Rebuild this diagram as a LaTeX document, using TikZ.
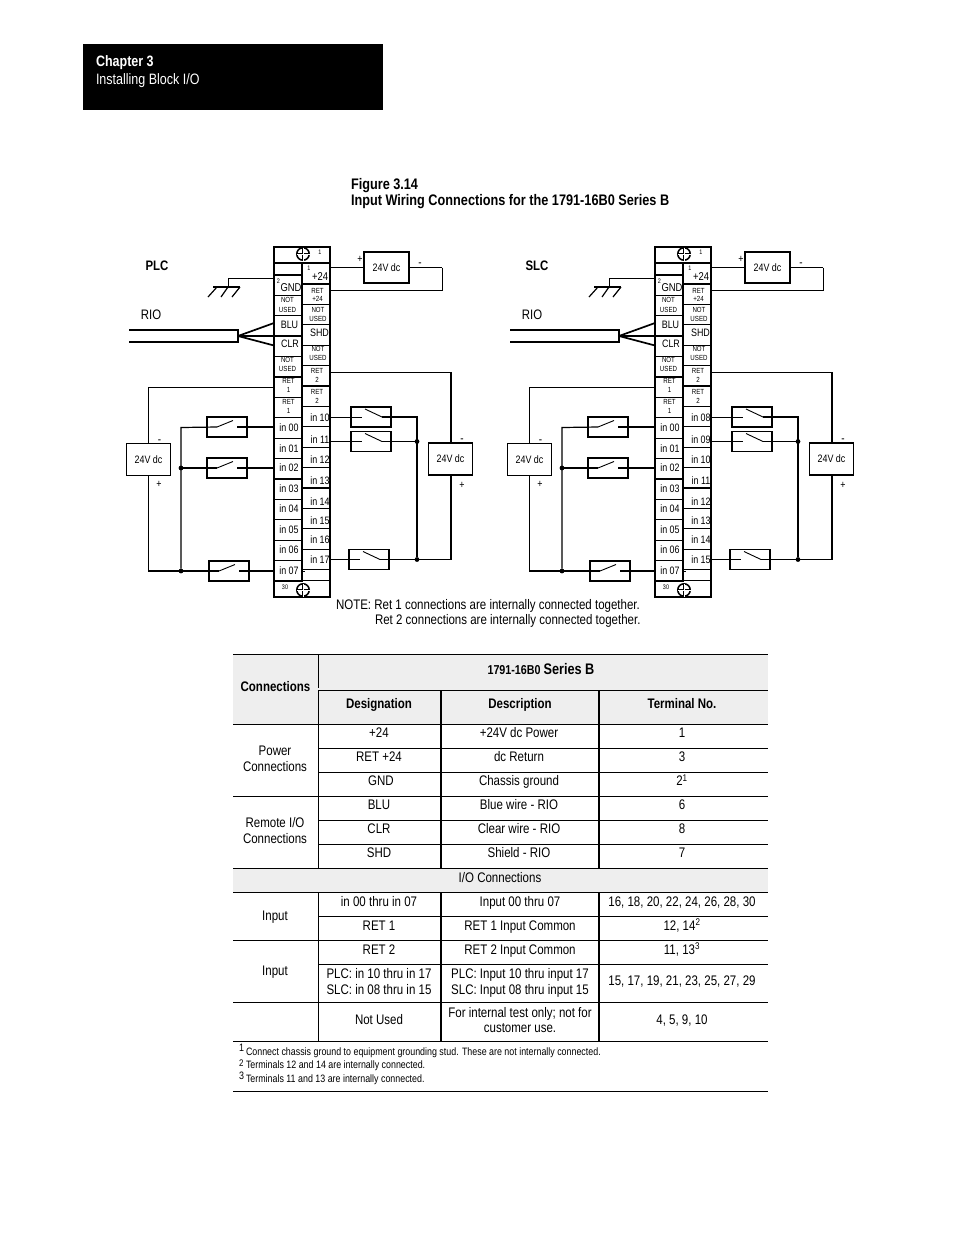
\documentclass[tikz,border=0pt]{standalone}
\usepackage{fontspec}
\setmainfont[Scale=1.2,FakeStretch=0.83]{Liberation Sans}
\newcounter{tcnt}
\tikzset{
 wire/.style={line width=1.2bp,black},
 thinwire/.style={line width=.9bp,black},
 cell/.style={draw,line width=1.2bp,minimum width=28bp,minimum height=20.4bp,inner sep=0pt,outer sep=0pt,anchor=north west},
 lab/.style={inner sep=0pt,outer sep=0pt,align=center},
 swbox/.style={draw,line width=1.2bp,minimum width=40bp,minimum height=20bp,inner sep=0pt,outer sep=0pt},
 psbox/.style={draw,line width=1.2bp,minimum width=44bp,minimum height=32bp,inner sep=0pt,outer sep=0pt,font=\fontsize{9}{9}\selectfont},
 jdot/.style={circle,fill=black,inner sep=0pt,outer sep=0pt,minimum size=4.8bp},
 screwring/.style={circle,draw,line width=1.5bp,minimum size=12.5bp,inner sep=0pt,outer sep=0pt},
 crossA/.style={line width=2.6bp,black},
 crossB/.style={line width=.9bp,white},
 tl/.style={line width=.9bp,black},
 tk/.style={line width=1.4bp,black},
 tv/.style={line width=1.5bp,black},
}
\newcommand\tc[4]{\stepcounter{tcnt}\node[lab,font=\fontsize{#1}{#1}\selectfont,anchor=base] (t\arabic{tcnt}) at (#2,#3+.43*#1) {#4};}
\newcommand\tb[4]{\stepcounter{tcnt}\node[lab,font=\fontsize{#1}{#1}\selectfont\bfseries,anchor=base] (t\arabic{tcnt}) at (#2,#3+.43*#1) {#4};}
\newcommand\tw[4]{\stepcounter{tcnt}\node[lab,font=\fontsize{#1}{#1}\selectfont,anchor=base west] (t\arabic{tcnt}) at (#2,#3+.43*#1) {#4};}
\newcommand\screw[3]{%
 \node[screwring] (#1) at (#2,#3) {};
 \draw[crossA] (#2-6,#3) -- (#2+6,#3);
 \draw[crossA] (#2,#3-6) -- (#2,#3+6);
 \draw[crossB] (#2-6.5,#3) -- (#2+6.5,#3);
 \draw[crossB] (#2,#3-6.5) -- (#2,#3+6.5);
}
\newcommand\panel[5]{%
\begin{scope}[shift={(#2,0)},name prefix=#1-]
 % block
 \draw[line width=1.3bp] (274,247) rectangle (330,597);
 \draw[line width=1.2bp] (274,263) -- (330,263);
 \screw{scT}{303}{254}
 \screw{scB}{303}{590}
 \tc{5.5}{320}{252}{1}
 \tc{5.5}{285}{587}{30}
 \foreach \i in {0,...,14}{
  \pgfmathsetmacro\ya{275+20.4*\i}
  \pgfmathsetmacro\yb{263.5+20.4*\i}
  \node[cell] (L\i) at (274,\ya) {};
  \node[cell] (R\i) at (302,\yb) {};
 }
 \node[cell,minimum height=11bp] (R15) at (302,569.5) {};
 \draw[line width=.7bp] (302,571) -- (305,571);
 % left labels
 \tc{5.5}{278.5}{281}{2}
 \tc{9.5}{291}{287}{GND}
 \foreach \yy in {300,359.5}{\node[lab,font=\fontsize{6.2}{9.4}\selectfont] at (287.5,\yy+5) {NOT\\USED};}
 \tc{9}{289.5}{325}{BLU}
 \tc{9}{290}{344}{CLR}
 \foreach \yy in {381,402}{\node[lab,font=\fontsize{6.2}{9.4}\selectfont] at (288.5,\yy+4.5) {RET\\1};}
 \foreach \n/\yy in {00/428,01/448.5,02/468,03/489,04/509,05/530,06/550,07/571}{\node[lab,font=\fontsize{9}{9}\selectfont,anchor=base] (lt\n) at (289,\yy+3.9) {in \n};}
 % right labels
 \tc{5.5}{309}{268}{1}
 \tc{9.5}{320}{276}{+24}
 \node[lab,font=\fontsize{6.2}{8.5}\selectfont] (rt24) at (317.5,295) {RET\\+24};
 \foreach \yy in {310,349}{\node[lab,font=\fontsize{6.2}{9.4}\selectfont] at (318,\yy+4.5) {NOT\\USED};}
 \tc{9}{319.5}{333}{SHD}
 \foreach \yy in {371,392}{\node[lab,font=\fontsize{6.2}{9.4}\selectfont] at (317,\yy+4.5) {RET\\2};}
 \foreach \n/\yy in {#3}{\node[lab,font=\fontsize{9}{9}\selectfont,anchor=base] (rt\n) at (320,\yy+3.9) {in \n};}
 % power supplies
 \node[psbox,minimum width=45bp,minimum height=31bp] (psT) at (386.5,267.5) {24V dc};
 \node[psbox] (psL) at (148.5,459.5) {24V dc};
 \node[psbox] (psR) at (450.5,459) {24V dc};
 \tc{9}{360}{259}{+}
 \tc{10}{420}{262}{-}
 \tc{10}{159.5}{439.5}{-}
 \tc{9}{159}{484}{+}
 \tc{10}{462}{438.5}{-}
 \tc{9}{462}{485}{+}
 % top supply wires
 \coordinate (cT) at (442,290);
 \draw[wire] (R0.east |- psT.west) -- (psT.west);
 \draw[wire] (psT.east) -- (psT.east -| cT);
 \draw[thinwire] (psT.east -| cT) -- (cT) -- (cT -| R1.east);
 % ground
 \coordinate (gA) at (228,278);
 \coordinate (gB) at (228,287);
 \coordinate (gC) at (213,287);
 \coordinate (gD) at (240,287);
 \draw[thinwire] (L0.west |- gA) -- (gA) -- (gB);
 \draw[wire] (gC) -- (gD);
 \draw[wire] (gC) ++(4,0) -- ++(-9,10);
 \draw[wire] (gB) -- ++(-7,10);
 \draw[wire] (gD) -- ++(-8,10);
 % RIO cable
 \tc{11.5}{#4}{315}{RIO}
 \tb{11.5}{#5}{266}{#1}
 \coordinate (caT) at (238,330);
 \coordinate (caB) at (238,342);
 \coordinate (caM) at (238,336);
 \coordinate (caS) at (129,330);
 \coordinate (caU) at (129,342);
 \draw[wire] (caS) -- (caT) -- (caB) -- (caU);
 \draw[line width=1.7bp] (caM) -- (L2.west |- 0,323);
 \draw[line width=1.7bp] (caM) -- (L3.west |- 0,345.5);
 \draw[line width=2bp] (caM) -- (R3.west |- caM);
 % left switches
 \node[swbox] (s1) at (227,427) {};
 \node[swbox] (s2) at (227,468) {};
 \node[swbox] (s3) at (229,571) {};
 \coordinate (bT) at (181,427.5);
 \node[jdot] (j2) at (181,468) {};
 \node[jdot] (j3) at (181,571) {};
 \foreach \s in {s1,s2,s3}{
  \draw[thinwire] ([xshift=-10bp]\s.center) -- ([xshift=6bp,yshift=6.5bp]\s.center);
 }
 \draw[wire] ([xshift=-10bp]s1.center) -- (bT) -- (j3);
 \draw[wire] (j2) -- ([xshift=-10bp]s2.center);
 \draw[wire] ([xshift=10bp]s1.center) -- (L7.west |- s1.center);
 \draw[wire] ([xshift=10bp]s2.center) -- (L9.west |- s2.center);
 \draw[wire] ([xshift=10bp]s3.center) -- (L14.west |- s3.center);
 \draw[wire] (L5.west) -| (psL.north);
 \draw[wire] (psL.south) |- ([xshift=-10bp]s3.center);
 % right switches
 \node[swbox] (r1) at (371,417) {};
 \node[swbox] (r2) at (371,441.5) {};
 \node[swbox] (r3) at (369,559.5) {};
 \coordinate (bR) at (417,417);
 \node[jdot] (k2) at (417,441.5) {};
 \node[jdot] (k3) at (417,559.5) {};
 \foreach \s in {r1,r2,r3}{
  \draw[thinwire] ([xshift=-6bp,yshift=8bp]\s.center) -- ([xshift=11bp]\s.center);
 }
 \draw[wire] ([xshift=11bp]r1.center) -- (bR) -- (k3);
 \draw[wire] ([xshift=11bp]r2.center) -- (k2);
 \draw[wire] ([xshift=11bp]r3.center) -- (k3);
 \draw[thinwire] (R7.east |- r1.center) -- ([xshift=-9bp]r1.center);
 \draw[wire] (R8.east |- r2.center) -- ([xshift=-9bp]r2.center);
 \draw[wire] (R14.east |- r3.center) -- ([xshift=-9bp]r3.center);
 \coordinate (cR) at (451,372.7);
 \draw[wire] (cR -| R5.east) -- (cR) -- (psR.north -| cR);
 \draw[wire] (psR.south -| cR) |- (k3);
\end{scope}}
\begin{document}
\begin{tikzpicture}[x=1bp,y=-1bp]
\useasboundingbox (0,0) rectangle (954,1235);
\fill[white] (0,0) rectangle (954,1235);
% chapter band
\fill[black] (83,44) rectangle (383,110);
\node[lab,anchor=base west,text=white,font=\fontsize{12.6}{12.6}\selectfont\bfseries] (chap) at (96,66.5) {Chapter 3};
\node[lab,anchor=base west,text=white,font=\fontsize{12.6}{12.6}\selectfont] (inst) at (96,84.5) {Installing Block I/O};
% title
\node[lab,anchor=base west,font=\fontsize{12.8}{12.8}\selectfont\bfseries] (fig) at (351,189.5) {Figure 3.14};
\node[lab,anchor=base west,font=\fontsize{12.8}{12.8}\selectfont\bfseries] (figb) at (351,205.5) {Input Wiring Connections for the 1791-16B0 Series B};
% panels
\panel{PLC}{0}{10/418,11/440,12/460,13/481,14/502,15/521,16/540,17/560}{151}{157}
\panel{SLC}{381}{08/418,09/440,10/460,11/481,12/502,13/521,14/540,15/560}{151}{156}
% note
\tw{11.6}{336}{605}{NOTE: Ret 1 connections are internally connected together.}
\tw{11.6}{375}{620}{Ret 2 connections are internally connected together.}
% table shading
\fill[black!6.5] (233,654.5) rectangle (768,724);
\fill[black!6.5] (233,868) rectangle (768,892);
% table lines
\draw[tl] (233,654.5) -- (768,654.5);
\draw[tl] (318,690) -- (768,690);
\draw[tl] (233,724) -- (768,724);
\draw[tl] (318,748) -- (768,748);
\draw[tl] (318,772) -- (768,772);
\draw[tl] (233,796) -- (768,796);
\draw[tl] (318,820.5) -- (768,820.5);
\draw[tl] (318,844.5) -- (768,844.5);
\draw[tl] (233,868) -- (768,868);
\draw[tl] (233,892) -- (768,892);
\draw[tl] (318,916) -- (768,916);
\draw[tl] (233,940) -- (768,940);
\draw[tl] (318,964) -- (768,964);
\draw[tk] (233,1002.5) -- (768,1002.5);
\draw[tk] (233,1041.5) -- (768,1041.5);
\draw[tl] (233,1091) -- (768,1091);
\draw[tl] (318,654.5) -- (318,688);
\draw[tl] (318,690) -- (318,868);
\draw[tl] (318,892) -- (318,1041.5);
\draw[tv] (441,690) -- (441,868);
\draw[tv] (441,892) -- (441,1041.5);
\draw[tv] (599,690) -- (599,868);
\draw[tv] (599,892) -- (599,1041.5);
% table text
\tb{11.6}{275.5}{687}{Connections}
\node[lab,anchor=base] (head) at (541,674) {\fontsize{10.8}{12}\selectfont\bfseries 1791-16B0 \fontsize{12.8}{12}\selectfont Series B};
\tb{11.6}{379}{704}{Designation}
\tb{11.6}{520}{704}{Description}
\tb{11.6}{682}{704}{Terminal No.}
\tc{11.6}{275}{751}{Power}
\tc{11.6}{275}{767}{Connections}
\tc{11.6}{275}{823}{Remote I/O}
\tc{11.6}{275}{839}{Connections}
\tc{11.6}{379}{733}{+24}
\tc{11.6}{379}{757}{RET +24}
\tc{11.6}{381}{781}{GND}
\tc{11.6}{379}{805}{BLU}
\tc{11.6}{379}{829}{CLR}
\tc{11.6}{379}{853}{SHD}
\tc{11.6}{519}{733}{+24V dc Power}
\tc{11.6}{519}{757}{dc Return}
\tc{11.6}{519}{781}{Chassis ground}
\tc{11.6}{519}{805}{Blue wire - RIO}
\tc{11.6}{519}{829}{Clear wire - RIO}
\tc{11.6}{519}{853}{Shield - RIO}
\tc{11.6}{682}{733}{1}
\tc{11.6}{682}{757}{3}
\tc{11.6}{682}{781}{2\textsuperscript{1}}
\tc{11.6}{682}{805}{6}
\tc{11.6}{682}{829}{8}
\tc{11.6}{682}{853}{7}
\tc{11.6}{500}{877}{I/O Connections}
\tc{11.6}{275}{915}{Input}
\tc{11.6}{379}{901}{in 00 thru in 07}
\tc{11.6}{520}{901}{Input 00 thru 07}
\tc{11.6}{682}{901}{16, 18, 20, 22, 24, 26, 28, 30}
\tc{11.6}{379}{925}{RET 1}
\tc{11.6}{520}{925}{RET 1 Input Common}
\tc{11.6}{682}{925}{12, 14\textsuperscript{2}}
\tc{11.6}{275}{970}{Input}
\tc{11.6}{379}{949}{RET 2}
\tc{11.6}{520}{949}{RET 2 Input Common}
\tc{11.6}{682}{949}{11, 13\textsuperscript{3}}
\tc{11.6}{379}{973}{PLC: in 10 thru in 17}
\tc{11.6}{379}{989}{SLC: in 08 thru in 15}
\tc{11.6}{520}{973}{PLC: Input 10 thru input 17}
\tc{11.6}{520}{989}{SLC: Input 08 thru input 15}
\tc{11.6}{682}{980}{15, 17, 19, 21, 23, 25, 27, 29}
\tc{11.6}{379}{1019}{Not Used}
\tc{11.6}{520}{1012}{For internal test only; not for}
\tc{11.6}{520}{1027}{customer use.}
\tc{11.6}{682}{1019}{4, 5, 9, 10}
% footnotes
\tw{9}{239}{1048}{1}
\tw{8.95}{246}{1051.5}{Connect chassis ground to equipment grounding stud. These are not internally connected.}
\tw{8}{239}{1063}{2}
\tw{8.95}{246}{1065}{Terminals 12 and 14 are internally connected.}
\tw{9}{239}{1076}{3}
\tw{8.95}{246}{1079}{Terminals 11 and 13 are internally connected.}
\end{tikzpicture}
\end{document}
